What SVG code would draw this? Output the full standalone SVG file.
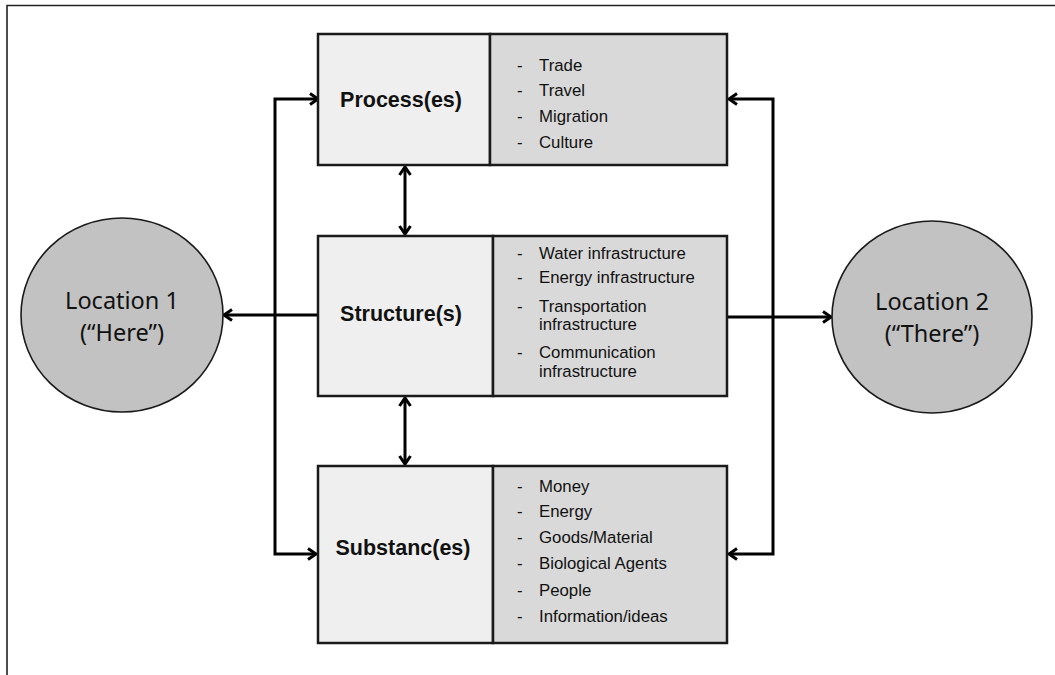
<svg xmlns="http://www.w3.org/2000/svg" width="1055" height="675" viewBox="0 0 1055 675">
<style>
.frame{fill:none;stroke:#222;stroke-width:1.6}
.lbox{fill:#efefef;stroke:#1a1a1a;stroke-width:2.5}
.rbox{fill:#d9d9d9;stroke:#1a1a1a;stroke-width:2.5}
.loc{fill:#c2c2c2;stroke:#1a1a1a;stroke-width:1.6}
.title{font-family:"Liberation Sans",Arial,sans-serif;font-weight:bold;font-size:21.5px;fill:#111;text-anchor:middle}
.item{font-family:"Liberation Sans",Arial,sans-serif;font-size:16.8px;fill:#111}
.loctext{font-family:"Noto Sans","Open Sans",sans-serif;font-size:23.5px;fill:#111;text-anchor:middle}
.conn{fill:none;stroke:#000;stroke-width:3}
</style>
<defs>
<marker id="arr" viewBox="0 0 14 14" markerWidth="14" markerHeight="14" refX="11" refY="7" orient="auto-start-reverse" markerUnits="userSpaceOnUse">
<path d="M3,1.5 L11,7 L3,12.5" fill="none" stroke="#000" stroke-width="3"/>
</marker>
</defs>
<rect width="1055" height="675" fill="#fff"/>
<path class="frame" d="M7,675 V5.5 H1055"/>

<g id="connectors">
<path class="conn" d="M318,99 H275 V554 H316" marker-start="url(#arr)" marker-end="url(#arr)"/>
<path class="conn" d="M729,99 H773 V554 H729" marker-start="url(#arr)" marker-end="url(#arr)"/>
<path class="conn" d="M318,315 H224" marker-end="url(#arr)"/>
<path class="conn" d="M727,317 H831" marker-end="url(#arr)"/>
<path class="conn" d="M405,167 V234" marker-start="url(#arr)" marker-end="url(#arr)"/>
<path class="conn" d="M405,398 V464" marker-start="url(#arr)" marker-end="url(#arr)"/>
</g>

<g id="location1">
<ellipse class="loc" cx="122" cy="315" rx="101" ry="97"/>
<text class="loctext" x="122" y="309">Location 1</text>
<text class="loctext" x="122" y="341">(“Here”)</text>
</g>

<g id="location2">
<ellipse class="loc" cx="932" cy="317" rx="100" ry="96"/>
<text class="loctext" x="932" y="310">Location 2</text>
<text class="loctext" x="932" y="342">(“There”)</text>
</g>

<g id="processes">
<rect class="lbox" x="318" y="34" width="172" height="131"/>
<rect class="rbox" x="490" y="34" width="237" height="131"/>
<text class="title" x="401" y="107">Process(es)</text>
<g class="item">
<text x="517" y="71">-</text><text x="539" y="71">Trade</text>
<text x="517" y="96">-</text><text x="539" y="96">Travel</text>
<text x="517" y="122">-</text><text x="539" y="122">Migration</text>
<text x="517" y="148">-</text><text x="539" y="148">Culture</text>
</g>
</g>

<g id="structures">
<rect class="lbox" x="318" y="236" width="175" height="160"/>
<rect class="rbox" x="493" y="236" width="234" height="160"/>
<text class="title" x="401" y="321">Structure(s)</text>
<g class="item">
<text x="517" y="259">-</text><text x="539" y="259">Water infrastructure</text>
<text x="517" y="283">-</text><text x="539" y="283">Energy infrastructure</text>
<text x="517" y="312">-</text><text x="539" y="312">Transportation</text>
<text x="539" y="330">infrastructure</text>
<text x="517" y="358">-</text><text x="539" y="358">Communication</text>
<text x="539" y="377">infrastructure</text>
</g>
</g>

<g id="substances">
<rect class="lbox" x="318" y="466" width="175" height="177"/>
<rect class="rbox" x="493" y="466" width="234" height="177"/>
<text class="title" x="403" y="555">Substanc(es)</text>
<g class="item">
<text x="517" y="492">-</text><text x="539" y="492">Money</text>
<text x="517" y="517">-</text><text x="539" y="517">Energy</text>
<text x="517" y="543">-</text><text x="539" y="543">Goods/Material</text>
<text x="517" y="569">-</text><text x="539" y="569">Biological Agents</text>
<text x="517" y="596">-</text><text x="539" y="596">People</text>
<text x="517" y="622">-</text><text x="539" y="622">Information/ideas</text>
</g>
</g>
</svg>
